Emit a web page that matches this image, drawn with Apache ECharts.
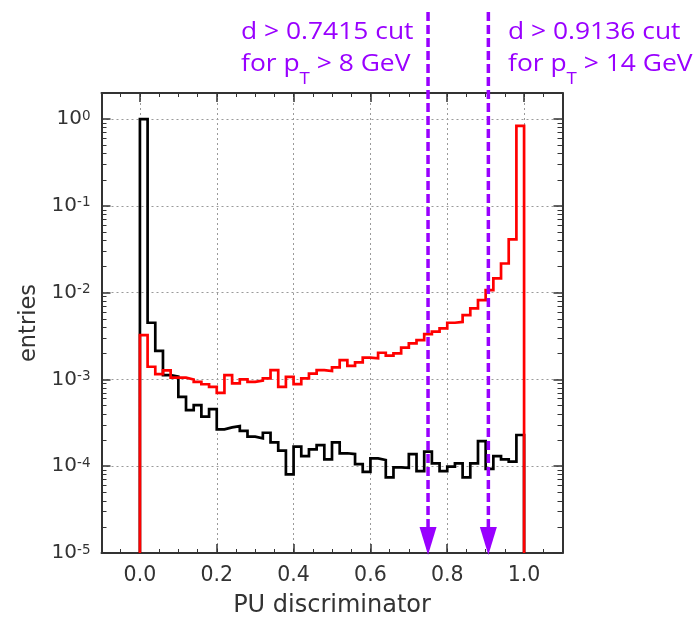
<!DOCTYPE html>
<html><head><meta charset="utf-8">
<script src="https://cdn.jsdelivr.net/npm/echarts@6/dist/echarts.min.js"></script>
<style>html,body{margin:0;padding:0;background:#fff}#c{width:696px;height:619px}</style>
</head><body><div id="c"></div>
<script>
// ---- data ----
const binWidth = 0.02;
const blackCounts = [1.0, 4.5e-3, 2.14e-3, 1.12e-3, 1.08e-3, 6.3e-4, 4.44e-4, 5.07e-4, 3.72e-4, 4.56e-4,
  2.66e-4, 2.8e-4, 2.9e-4, 2.56e-4, 2.19e-4, 2.1e-4, 2.43e-4, 1.88e-4, 1.51e-4, 8.05e-5,
  1.68e-4, 1.31e-4, 1.56e-4, 1.75e-4, 1.2e-4, 1.88e-4, 1.41e-4, 1.38e-4, 1.06e-4, 8.6e-5,
  1.23e-4, 1.18e-4, 7.45e-5, 9.7e-5, 9.6e-5, 1.38e-4, 8.8e-5, 1.47e-4, 1.08e-4, 8.8e-5,
  9.9e-5, 1.08e-4, 7.45e-5, 1.08e-4, 1.95e-4, 9.3e-5, 1.31e-4, 1.2e-4, 1.13e-4, 2.29e-4];
const redCounts = [3.25e-3, 1.4e-3, 1.15e-3, 1.27e-3, 1.05e-3, 1.05e-3, 1.0e-3, 9.4e-4, 8.8e-4, 8.2e-4,
  7.0e-4, 1.12e-3, 9.0e-4, 1.0e-3, 9.4e-4, 9.7e-4, 1.03e-3, 1.28e-3, 8.2e-4, 1.07e-3,
  8.85e-4, 1.03e-3, 1.17e-3, 1.28e-3, 1.25e-3, 1.38e-3, 1.67e-3, 1.43e-3, 1.57e-3, 1.78e-3,
  1.75e-3, 2.03e-3, 1.88e-3, 2.0e-3, 2.33e-3, 2.6e-3, 2.84e-3, 3.33e-3, 3.55e-3, 3.88e-3,
  4.5e-3, 4.6e-3, 5.52e-3, 6.59e-3, 8.2e-3, 1.07e-2, 1.46e-2, 2.17e-2, 4.11e-2, 0.838];
const xMajorTicks = [0.0, 0.2, 0.4, 0.6, 0.8, 1.0];
const yMajorTicks = [1e-5, 1e-4, 1e-3, 1e-2, 1e-1, 1];
const yMinorMantissas = [2, 3, 4, 5, 6, 7, 8, 9];
const cutArrowX = [0.75, 0.907];
const cutTextLine1 = ['d > 0.7415 cut', 'd > 0.9136 cut'];
const cutTextLine2 = [['for p', 'T', ' > 8 GeV'], ['for p', 'T', ' > 14 GeV']];
const xLabel = 'PU discriminator';
const yLabel = 'entries';

const X_MIN = -0.1, X_MAX = 1.1, Y_MIN = 1e-5, Y_MAX = 2;
const AX = '#333333', TXT = '#333333', PURPLE = '#9900ff', GRIDC = '#9a9a9a';

const yMinorTicks = [];
yMajorTicks.forEach(d => yMinorMantissas.forEach(m => { if (d * m <= Y_MAX) yMinorTicks.push(+(d * m).toPrecision(3)); }));

function stepPoints(vals) {
  const pts = [[0, Y_MIN]];
  vals.forEach((v, i) => {
    pts.push([+(i * binWidth).toFixed(4), v], [+((i + 1) * binWidth).toFixed(4), v]);
  });
  pts.push([+(vals.length * binWidth).toFixed(4), Y_MIN]);
  return pts;
}

const chart = echarts.init(document.getElementById('c'), null, {renderer: 'canvas'});
const DF = 'DejaVu Sans, sans-serif';

function xAx(pos, major, extra) {
  return Object.assign({
    type: 'value', position: pos, min: X_MIN, max: X_MAX, gridIndex: 0,
    axisLine: {show: major, onZero: false, lineStyle: {color: AX, width: 2}},
    axisTick: major ? {show: true, inside: true, length: 9, customValues: xMajorTicks, lineStyle: {color: AX, width: 1.5}}
                    : {show: true, inside: true, length: 4, lineStyle: {color: AX, width: 1}},
    axisLabel: {show: false},
    splitLine: {show: false}
  }, extra || {});
}
function yAx(pos, major, extra) {
  return Object.assign({
    type: 'log', logBase: 10, position: pos, min: Y_MIN, max: Y_MAX, gridIndex: 0,
    axisLine: {show: major, onZero: false, lineStyle: {color: AX, width: 2}},
    axisTick: major ? {show: true, inside: true, length: 9, customValues: yMajorTicks, lineStyle: {color: AX, width: 1.5}}
                    : {show: true, inside: true, length: 5, customValues: yMinorTicks, lineStyle: {color: AX, width: 1}},
    axisLabel: {show: false},
    splitLine: {show: false}
  }, extra || {});
}

const option = {
  animation: false,
  backgroundColor: '#fff',
  grid: {left: 101.5, right: 133.5, top: 93, bottom: 66, containLabel: false, outerBoundsMode: 'none'},
  xAxis: [
    xAx('bottom', true, {
      name: xLabel, nameLocation: 'middle', nameGap: 41,
      nameTextStyle: {fontFamily: DF, fontSize: 24, color: TXT},
      axisLabel: {show: true, customValues: xMajorTicks, margin: 12, fontFamily: DF, fontSize: 20.5, color: TXT,
        formatter: v => v.toFixed(1)},
      splitLine: {show: true, lineStyle: {color: GRIDC, width: 1, type: [2, 3]}}
    }),
    xAx('bottom', false, {interval: 0.05}),
    xAx('top', true),
    xAx('top', false, {interval: 0.05})
  ],
  yAxis: [
    yAx('left', true, {
      name: yLabel, nameLocation: 'middle', nameGap: 58,
      nameTextStyle: {fontFamily: DF, fontSize: 22.5, color: TXT},
      axisLabel: {show: true, customValues: yMajorTicks, margin: 11, fontFamily: DF, color: TXT,
        formatter: v => '{b|10}{s|' + Math.round(Math.log10(v)) + '}',
        rich: {b: {fontFamily: DF, fontSize: 20, color: TXT},
               s: {fontFamily: DF, fontSize: 13.5, color: TXT, verticalAlign: 'top'}}},
      splitLine: {show: true, lineStyle: {color: GRIDC, width: 1, type: [2, 3]}}
    }),
    yAx('left', false),
    yAx('right', true),
    yAx('right', false)
  ],
  series: [
    {type: 'line', name: 'black', data: stepPoints(blackCounts), xAxisIndex: 0, yAxisIndex: 0,
     symbol: 'none', lineStyle: {color: '#000', width: 2.7, join: 'miter'}, itemStyle: {color: '#000'}, z: 3, clip: true},
    {type: 'line', name: 'red', data: stepPoints(redCounts), xAxisIndex: 0, yAxisIndex: 0,
     symbol: 'none', lineStyle: {color: '#ff0000', width: 2.7, join: 'miter'}, itemStyle: {color: '#ff0000'}, z: 4, clip: true},
    {type: 'custom', name: 'cuts', xAxisIndex: 0, yAxisIndex: 0, clip: false, z: 6,
     data: cutArrowX.map(x => [x]),
     renderItem: function (params, api) {
       const x = api.value(0);
       const bot = api.coord([x, Y_MIN]);
       const top = api.coord([x, Y_MAX]);
       const headH = 26, headW = 17;
       return {type: 'group', children: [
         {type: 'line', shape: {x1: bot[0], y1: top[1] - 81, x2: bot[0], y2: bot[1] - headH},
          style: {stroke: PURPLE, lineWidth: 3.5, lineDash: [9, 4]}},
         {type: 'polygon', shape: {points: [[bot[0] - headW / 2, bot[1] - headH], [bot[0] + headW / 2, bot[1] - headH], [bot[0], bot[1] + 2]]},
          style: {fill: PURPLE}}
       ]};
     }}
  ],
  graphic: [0, 1].map(i => ({
    type: 'text', x: i === 0 ? 241 : 508, y: 20, scaleX: 1.1, z: 10,
    style: {
      text: '{a|' + cutTextLine1[i] + '}\n{a|' + cutTextLine2[i][0] + '}{s|' + cutTextLine2[i][1] + '}{a|' + cutTextLine2[i][2] + '}',
      rich: {
        a: {fontFamily: 'Open Sans', fontSize: 24, lineHeight: 32, fill: PURPLE, verticalAlign: 'top'},
        s: {fontFamily: 'Open Sans', fontSize: 17, lineHeight: 17, fill: PURPLE, verticalAlign: 'top', padding: [19, 0, 0, 0]}
      }
    }
  }))
};
chart.setOption(option);
</script>
</body></html>
